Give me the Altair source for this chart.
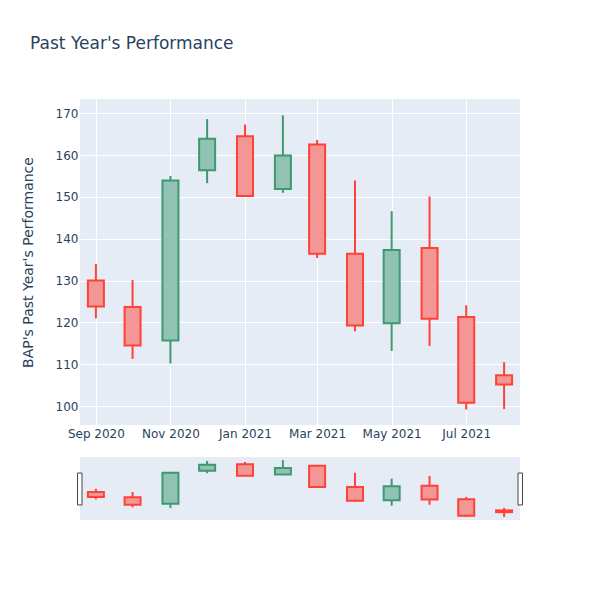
import altair as alt
import pandas as pd

dates = ["2020-09-01", "2020-10-01", "2020-11-01", "2020-12-01", "2021-01-01", "2021-02-01",
         "2021-03-01", "2021-04-01", "2021-05-01", "2021-06-01", "2021-07-01", "2021-08-01"]
opens = [130.0, 123.7, 115.7, 156.4, 164.5, 151.9, 162.5, 136.4, 119.8, 137.8, 121.3, 107.4]
highs = [134.0, 130.1, 155.0, 168.6, 167.3, 169.5, 163.6, 153.9, 146.6, 150.1, 124.1, 110.5]
lows = [121.0, 111.3, 110.2, 153.3, 150.0, 151.0, 135.4, 117.9, 113.2, 114.4, 99.2, 99.3]
closes = [123.8, 114.5, 153.9, 163.9, 150.2, 159.9, 136.4, 119.3, 137.3, 120.9, 100.8, 105.2]

y_ticks = [100, 110, 120, 130, 140, 150, 160, 170]
x_tick_dates = [(2020, 9), (2020, 11), (2021, 1), (2021, 3), (2021, 5), (2021, 7)]

df = pd.DataFrame({"date": dates, "open": opens, "high": highs, "low": lows, "close": closes})
df["direction"] = ["up" if c >= o else "down" for o, c in zip(opens, closes)]

TXT = "#2a3f5f"
FONT = "DejaVu Sans"
BG = "#E5ECF6"

line_scale = alt.Scale(domain=["up", "down"], range=["#3D9970", "#FF4136"])
fill_scale = alt.Scale(domain=["up", "down"], range=["#91C2B3", "#F29696"])

xdom = [alt.DateTime(year=2020, month=8, date=19, utc=True),
        alt.DateTime(year=2021, month=8, date=14, utc=True)]
ydom = [95.5, 173.4]


def candles(height, show_axes):
    if show_axes:
        xaxis = alt.Axis(
            values=[alt.DateTime(year=y, month=m, date=1, utc=True) for y, m in x_tick_dates],
            labelExpr="utcFormat(datum.value, '%b %Y')", title=None, domain=False, ticks=False,
            labelColor=TXT, labelFont=FONT, labelFontSize=12, labelPadding=3,
            grid=True, gridColor="white", gridWidth=1, labelFlush=False,
        )
        yaxis = alt.Axis(
            values=y_ticks, title="BAP's Past Year's Performance", domain=False, ticks=False,
            labelColor=TXT, labelFont=FONT, labelFontSize=12, labelPadding=2,
            titleColor=TXT, titleFont=FONT, titleFontSize=14, titleFontWeight="normal",
            titlePadding=20, grid=True, gridColor="white", gridWidth=1,
        )
    else:
        xaxis = None
        yaxis = None
    x = alt.X("date:T", scale=alt.Scale(type="utc", domain=xdom, nice=False, padding=0), axis=xaxis)
    base = alt.Chart(df)
    wick = base.mark_rule(strokeWidth=2).encode(
        x=x,
        y=alt.Y("low:Q", scale=alt.Scale(domain=ydom, nice=False, zero=False, padding=0), axis=yaxis),
        y2="high:Q",
        color=alt.Color("direction:N", scale=line_scale, legend=None),
    )
    body = base.mark_bar(size=16, strokeWidth=2).encode(
        x=x,
        y=alt.Y("open:Q"),
        y2="close:Q",
        fill=alt.Fill("direction:N", scale=fill_scale, legend=None),
        stroke=alt.Stroke("direction:N", scale=line_scale, legend=None),
    )
    return alt.layer(wick, body).properties(width=440, height=height)


main = candles(326, True)

slider_core = candles(63, False)
handle_src = alt.Chart(pd.DataFrame({"h": ["handle"]}))
left_handle = handle_src.mark_rect(fill="white", stroke="#444", strokeWidth=1).encode(
    x=alt.value(-2.5), x2=alt.value(2), y=alt.value(16), y2=alt.value(48))
right_handle = handle_src.mark_rect(fill="white", stroke="#444", strokeWidth=1).encode(
    x=alt.value(438), x2=alt.value(442.5), y=alt.value(16), y2=alt.value(48))
slider = alt.layer(slider_core, left_handle, right_handle).properties(width=440, height=63)

chart = alt.vconcat(main, slider, spacing=18).resolve_scale(
    x="independent", y="independent"
).properties(
    title=alt.TitleParams("Past Year's Performance", anchor="start", fontSize=17, font=FONT,
                          color=TXT, fontWeight="normal", offset=46, dx=9),
    padding={"left": 13, "top": 27, "right": 10, "bottom": 10},
    background="white",
).configure_view(stroke=None, fill=BG)

chart.save("out.html", embed_options={"renderer": "svg", "actions": False})
